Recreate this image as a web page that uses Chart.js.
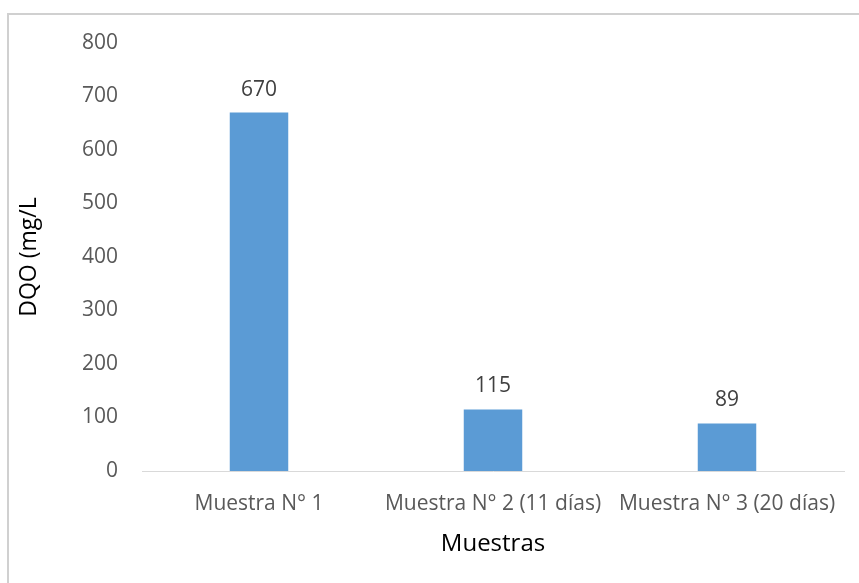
<!DOCTYPE html>
<html>
<head>
<meta charset="utf-8">
<script src="https://cdn.jsdelivr.net/npm/chart.js@4"></script>
<style>
  html, body { margin: 0; padding: 0; background: #fff; overflow: hidden; }
  #wrap { position: relative; width: 859px; height: 583px; }
  #frame { position: absolute; left: 7px; top: 13px; width: 900px; height: 700px;
           border-left: 2px solid #d0d0d0; border-top: 2px solid #d0d0d0; }
  canvas { position: absolute; left: 0; top: 0; }
</style>
</head>
<body>
<div id="wrap">
  <div id="frame"></div>
  <canvas id="chart" width="859" height="583"></canvas>
</div>
<script>
const categories = ["Muestra N° 1", "Muestra N° 2 (11 días)", "Muestra N° 3 (20 días)"];
const dqoValues = [670, 115, 89];
const yMin = 0, yMax = 800, yStep = 100;

const fontFamily = "'Open Sans', sans-serif";

// etiquetas de valor encima de cada barra
const valueLabels = {
  id: "valueLabels",
  afterDatasetsDraw(chart) {
    const ctx = chart.ctx;
    const meta = chart.getDatasetMeta(0);
    ctx.save();
    ctx.font = "21px " + fontFamily;
    ctx.fillStyle = "#404040";
    ctx.textAlign = "center";
    ctx.textBaseline = "alphabetic";
    meta.data.forEach((bar, i) => {
      ctx.fillText(String(dqoValues[i]), bar.x, bar.y - 17);
    });
    ctx.restore();
  }
};

const ctx = document.getElementById("chart").getContext("2d");
new Chart(ctx, {
  type: "bar",
  data: {
    labels: categories,
    datasets: [{
      label: "DQO",
      data: dqoValues,
      backgroundColor: "#5b9bd5",
      categoryPercentage: 1,
      barPercentage: 0.25
    }]
  },
  options: {
    responsive: false,
    animation: false,
    layout: { padding: { top: 43, right: 15, left: 0, bottom: 0 } },
    plugins: { legend: { display: false }, tooltip: { enabled: false } },
    scales: {
      x: {
        grid: { display: false, drawTicks: false },
        border: { display: true, color: "#d9d9d9", width: 1 },
        ticks: { color: "#595959", font: { family: fontFamily, size: 21 }, padding: 20, maxRotation: 0, autoSkip: false },
        title: { display: true, text: "Muestras", color: "#000", font: { family: fontFamily, size: 24 }, padding: { top: 0, bottom: 24 } },
        afterFit(scale) { scale.height = 112; }
      },
      y: {
        min: yMin, max: yMax,
        grid: { display: false, drawTicks: false },
        border: { display: false },
        ticks: { stepSize: yStep, color: "#595959", font: { family: fontFamily, size: 21 }, padding: 24 },
        title: { display: true, text: "DQO (mg/L", color: "#000", font: { family: fontFamily, size: 23 }, padding: { top: 16, bottom: 0 } },
        afterFit(scale) { scale.width = 142; }
      }
    }
  },
  plugins: [valueLabels]
});
</script>
</body>
</html>
